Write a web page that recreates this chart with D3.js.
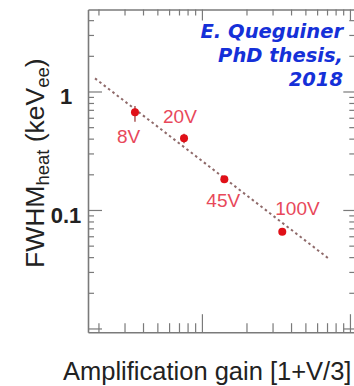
<!DOCTYPE html>
<html>
<head>
<meta charset="utf-8">
<script src="https://cdn.jsdelivr.net/npm/d3@7"></script>
<style>
  html, body { margin: 0; padding: 0; background: #fff; }
  svg { display: block; }
</style>
</head>
<body>
<svg id="chart" width="354" height="386"></svg>
<script>
// Bias voltages and the measured heat-channel resolution
const voltages = ["8V", "20V", "45V", "100V"];
const gain = [3.53, 7.57, 14.17, 34.9];          // amplification gain [1+V/3]
const fwhm = [0.668, 0.403, 0.182, 0.0656];      // FWHM heat (keVee)
const fwhmLo = [0.556, 0.365, 0.172, 0.062];
const fwhmHi = [0.755, 0.440, 0.192, 0.069];

// Fitted trend (dotted line) end points
const fitGain = [1.896, 71.4];
const fitFwhm = [1.29, 0.0391];

// Labelled y ticks
const yLabelValues = [1, 0.1];
const yLabelText = ["1", "0.1"];

const creditLines = ["E. Queguiner", "PhD thesis,", "2018"];

const svg = d3.select("#chart");

const frameLeft = 88, frameRight = 354.3, frameTop = 9.5, frameBottom = 332.2;

const x = d3.scaleLog().domain([1.7, 107]).range([frameLeft, frameRight]);
const y = d3.scaleLog().domain([0.0093, 4.92]).range([frameBottom, frameTop]);

const axisColor = "#7a7a7a";
const isMajor = v => Math.abs(Math.log10(v) - Math.round(Math.log10(v))) < 1e-6;

const xTicks = x.ticks();
const yTicks = y.ticks();

const axB = d3.axisBottom(x), axT = d3.axisTop(x), axL = d3.axisLeft(y), axR = d3.axisRight(y);

function drawAxis(gen, ticks, transform, majorLen, minorLen) {
  const g = svg.append("g").attr("transform", transform)
    .call(gen.tickValues(ticks).tickFormat("").tickSizeOuter(0).tickSizeInner(0));
  g.select(".domain").attr("stroke", axisColor).attr("stroke-width", 1.6);
  g.selectAll(".tick line")
    .attr("stroke", axisColor)
    .attr("stroke-width", 1.2)
    .each(function(d) {
      const len = isMajor(d) ? majorLen : minorLen;
      const sel = d3.select(this);
      if (gen === axB) sel.attr("y2", -len);
      if (gen === axT) sel.attr("y2", len);
      if (gen === axL) sel.attr("x2", len);
      if (gen === axR) sel.attr("x2", -len);
    });
  return g;
}

drawAxis(axB, xTicks, `translate(0,${frameBottom})`, 18, 9);
drawAxis(axT, xTicks, `translate(0,${frameTop})`, 11, 6);
drawAxis(axL, yTicks, `translate(${frameLeft},0)`, 14, 6);
drawAxis(axR, yTicks, `translate(${frameRight},0)`, 11, 5);

// y tick labels
svg.selectAll("text.ylab")
  .data(yLabelValues)
  .join("text")
  .attr("class", "ylab")
  .attr("x", 66)
  .attr("y", d => y(d) + 13)
  .attr("text-anchor", "middle")
  .attr("font-family", "Liberation Sans, Arial, sans-serif")
  .attr("font-weight", "bold")
  .attr("font-size", 22)
  .attr("fill", "#222")
  .text((d, i) => yLabelText[i]);

// Axis titles
const yTitle = svg.append("text")
  .attr("transform", "translate(44,268) rotate(-90)")
  .attr("font-family", "Liberation Sans, Arial, sans-serif")
  .attr("font-size", 26.5)
  .attr("fill", "#222");
yTitle.append("tspan").text("FWHM");
yTitle.append("tspan").attr("font-size", 18.5).attr("dy", 5).text("heat");
yTitle.append("tspan").attr("dy", -5).text(" (keV");
yTitle.append("tspan").attr("font-size", 18.5).attr("dy", 5).text("ee");
yTitle.append("tspan").attr("dy", -5).text(")");

svg.append("text")
  .attr("x", 63)
  .attr("y", 380)
  .attr("font-family", "Liberation Sans, Arial, sans-serif")
  .attr("font-size", 25.5)
  .attr("fill", "#222")
  .text("Amplification gain [1+V/3]");

// Fitted trend
svg.append("path")
  .datum(fitGain.map((g, i) => [g, fitFwhm[i]]))
  .attr("d", d3.line().x(d => x(d[0])).y(d => y(d[1])))
  .attr("fill", "none")
  .attr("stroke", "#8f6a6a")
  .attr("stroke-width", 2)
  .attr("stroke-dasharray", "2.5,3");

// Error bars and points
const pts = voltages.map((v, i) => ({ v, g: gain[i], f: fwhm[i], lo: fwhmLo[i], hi: fwhmHi[i] }));
svg.selectAll("line.err")
  .data(pts)
  .join("line")
  .attr("class", "err")
  .attr("x1", d => x(d.g)).attr("x2", d => x(d.g))
  .attr("y1", d => y(d.lo)).attr("y2", d => y(d.hi))
  .attr("stroke", "#b06060")
  .attr("stroke-width", 1.6);
svg.selectAll("circle.pt")
  .data(pts)
  .join("circle")
  .attr("class", "pt")
  .attr("cx", d => x(d.g))
  .attr("cy", d => y(d.f))
  .attr("r", 4)
  .attr("fill", "#e01018");

// Voltage labels
const labelOffsets = { "8V": [-18, 31], "20V": [-21, -15], "45V": [-18, 28], "100V": [-7, -17] };
svg.selectAll("text.vlab")
  .data(pts)
  .join("text")
  .attr("class", "vlab")
  .attr("x", d => x(d.g) + labelOffsets[d.v][0])
  .attr("y", d => y(d.f) + labelOffsets[d.v][1])
  .attr("font-family", "Liberation Sans, Arial, sans-serif")
  .attr("font-size", 19)
  .attr("fill", "#e8485a")
  .text(d => d.v);

// Credit
svg.selectAll("text.credit")
  .data(creditLines)
  .join("text")
  .attr("class", "credit")
  .attr("x", 343)
  .attr("y", (d, i) => 37.5 + i * 24.3)
  .attr("text-anchor", "end")
  .attr("font-family", "DejaVu Sans, sans-serif")
  .attr("font-weight", "bold")
  .attr("font-style", "italic")
  .attr("font-size", 19.5)
  .attr("fill", "#1530d8")
  .text(d => d);
</script>
</body>
</html>
